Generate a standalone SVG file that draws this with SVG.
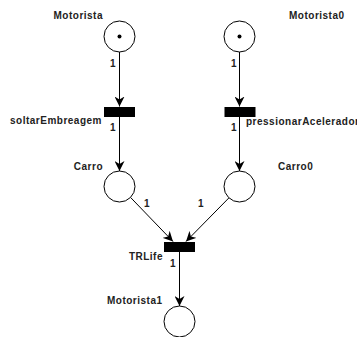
<svg xmlns="http://www.w3.org/2000/svg" width="357" height="337" viewBox="0 0 357 337">
  <style>
    text { font-family: "Liberation Sans", Arial, sans-serif; font-weight: bold; font-size: 10px; letter-spacing: 0.5px; fill: #222; }
    .place { fill: #fff; stroke: #000; stroke-width: 1; }
    .token { fill: #000; }
    .trans { fill: #000; }
    .arc { stroke: #000; stroke-width: 1; fill: none; marker-end: url(#arrow); }
    .end { text-anchor: end; }
    .mid { text-anchor: middle; }
  </style>
  <defs>
    <marker id="arrow" markerWidth="10" markerHeight="10" refX="10" refY="5" orient="auto" markerUnits="userSpaceOnUse">
      <path d="M0,0 L10,5 L0,10 L3,5 z" fill="#000"/>
    </marker>
  </defs>

  <rect width="357" height="337" fill="#fff"/>

  <g id="connectors">
    <line class="arc" x1="119.5" y1="52" x2="119.5" y2="106.5"/>
    <line class="arc" x1="239.5" y1="52" x2="239.5" y2="106.5"/>
    <line class="arc" x1="119.5" y1="117" x2="119.5" y2="171"/>
    <line class="arc" x1="239.5" y1="117" x2="239.5" y2="171"/>
    <line class="arc" x1="130.5" y1="197.4" x2="173" y2="241.5"/>
    <line class="arc" x1="229.4" y1="197.4" x2="186" y2="241.5"/>
    <line class="arc" x1="179.5" y1="252" x2="179.5" y2="306"/>
    <text class="mid" x="113" y="67">1</text>
    <text class="mid" x="113" y="131">1</text>
    <text class="mid" x="234" y="67">1</text>
    <text class="mid" x="234" y="131">1</text>
    <text class="mid" x="147" y="206.5">1</text>
    <text class="mid" x="201" y="206.5">1</text>
    <text class="mid" x="173" y="266.5">1</text>
  </g>

  <g id="Motorista">
    <circle class="place" cx="119.5" cy="36.5" r="15.5"/>
    <circle class="token" cx="119.5" cy="36.5" r="2"/>
    <text class="end" x="103" y="19">Motorista</text>
  </g>
  <g id="Motorista0">
    <circle class="place" cx="239.5" cy="36.5" r="15.5"/>
    <circle class="token" cx="239.5" cy="36.5" r="2"/>
    <text x="289" y="19">Motorista0</text>
  </g>
  <g id="soltarEmbreagem">
    <rect class="trans" x="104" y="107" width="31" height="10"/>
    <text class="end" x="102" y="124">soltarEmbreagem</text>
  </g>
  <g id="pressionarAcelerador">
    <rect class="trans" x="224.5" y="107" width="31" height="10"/>
    <text x="246" y="125">pressionarAcelerador</text>
  </g>
  <g id="Carro">
    <circle class="place" cx="119.5" cy="186.5" r="15.5"/>
    <text class="end" x="103" y="169.5">Carro</text>
  </g>
  <g id="Carro0">
    <circle class="place" cx="239.5" cy="186.5" r="15.5"/>
    <text x="278" y="169.5">Carro0</text>
  </g>
  <g id="TRLife">
    <rect class="trans" x="164" y="242" width="31" height="10"/>
    <text class="end" x="163" y="260">TRLife</text>
  </g>
  <g id="Motorista1">
    <circle class="place" cx="179.5" cy="321.5" r="15.5"/>
    <text class="end" x="162.5" y="304">Motorista1</text>
  </g>
</svg>
